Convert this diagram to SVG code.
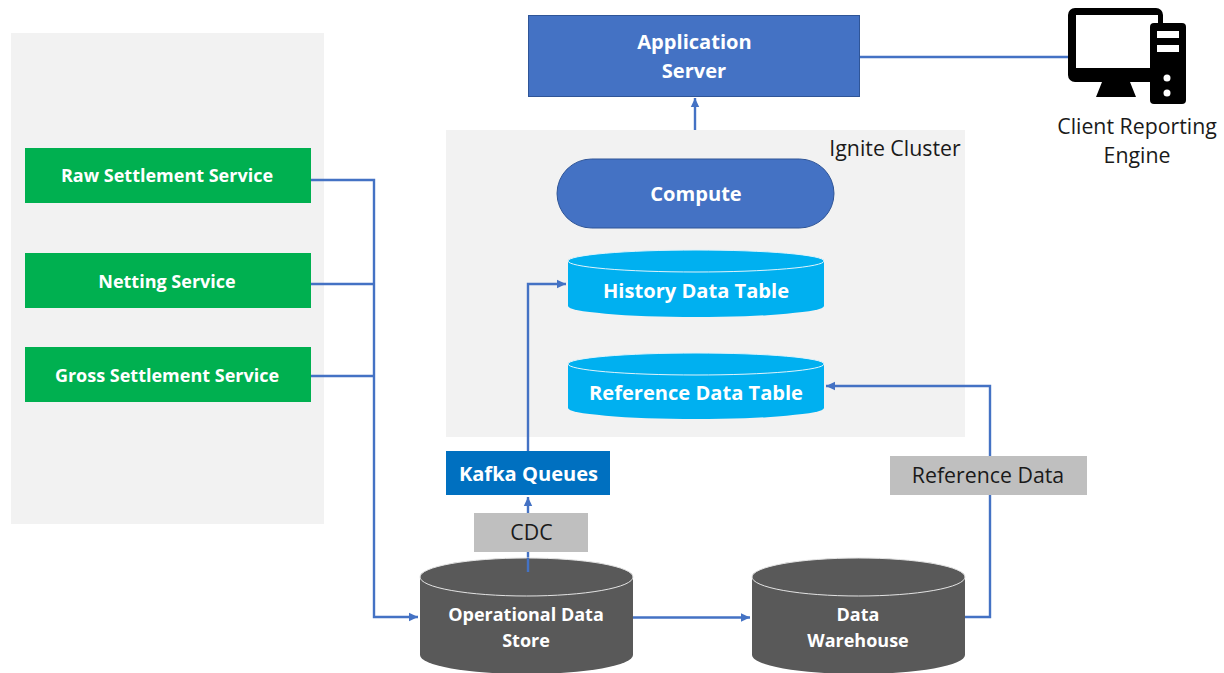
<svg xmlns="http://www.w3.org/2000/svg" width="1224" height="673" viewBox="0 0 1224 673">
<style>
text{font-family:"Open Sans","Noto Sans","Liberation Sans",sans-serif;text-anchor:middle}
.w{fill:#fff;font-weight:700}
.t{font-size:20.100px}
.s{font-size:18px}
.k{fill:#1a1a1a;font-size:21.300px}
.g{fill:#00b050}
.l{fill:#bfbfbf}
.c{fill:none;stroke:#4472c4;stroke-width:2.400}
</style>
<defs><marker id="ah" markerUnits="userSpaceOnUse" markerWidth="10" markerHeight="10" refX="9" refY="5" orient="auto"><path d="M0 0.8L9 5L0 9.2z" fill="#4472c4"/></marker></defs>
<rect id="left-panel" x="11" y="33" width="313" height="491" fill="#f2f2f2"/>
<rect id="ignite-panel" x="446" y="130" width="519" height="307" fill="#f2f2f2"/>
<g id="connectors">
<path class="c" d="M311 180H374V617H418" marker-end="url(#ah)"/>
<path class="c" d="M311 284H374"/>
<path class="c" d="M311 376H374"/>
<path class="c" d="M528 451V284H566" marker-end="url(#ah)"/>
<path class="c" d="M528 572V497" marker-end="url(#ah)"/>
<path class="c" d="M633 617.500H750" marker-end="url(#ah)"/>
<path class="c" d="M965 617H990V386H826" marker-end="url(#ah)"/>
<path class="c" d="M695 130V98" marker-end="url(#ah)"/>
<path class="c" d="M860 57H1068"/>
</g>
<g id="ignite-label"><text class="k" x="895" y="156">Ignite Cluster</text></g>
<g id="raw"><rect class="g" x="25" y="148" width="286" height="55"/><text class="w s" x="167" y="182">Raw Settlement Service</text></g>
<g id="netting"><rect class="g" x="25" y="253" width="286" height="55"/><text class="w s" x="167" y="288">Netting Service</text></g>
<g id="gross"><rect class="g" x="25" y="347" width="286" height="55"/><text class="w s" x="167" y="381.500">Gross Settlement Service</text></g>
<g id="app"><rect x="528.500" y="15.500" width="331" height="81" fill="#4472c4" stroke="#2f5597"/><text class="w t" x="694.500" y="49">Application</text><text class="w t" x="694" y="78">Server</text></g>
<g id="client"><path fill-rule="evenodd" d="M1075 8H1156a7 7 0 0 1 7 7V82H1130L1136 97H1096L1102 82H1075a7 7 0 0 1-7-7V15a7 7 0 0 1 7-7zM1076 15V68H1158V15z"/><rect x="1150" y="23" width="36" height="81" rx="4"/><rect x="1157" y="31" width="22" height="7" fill="#fff"/><rect x="1157" y="45" width="22" height="7" fill="#fff"/><circle cx="1167" cy="78" r="3.500" fill="#fff"/><circle cx="1167" cy="93" r="3.500" fill="#fff"/><text class="k" x="1137" y="134">Client Reporting</text><text class="k" x="1137" y="163">Engine</text></g>
<g id="compute"><rect x="557" y="159" width="277" height="69" rx="34.500" fill="#4472c4" stroke="#2f5597"/><text class="w t" x="696" y="201">Compute</text></g>
<g id="history"><path d="M568 261V306A128 11 0 0 0 824 306V261z" fill="#00b0f0"/><ellipse cx="696" cy="261" rx="128" ry="11" fill="#00b0f0" stroke="#dff3fb"/><text class="w t" x="696" y="297.500">History Data Table</text></g>
<g id="reference"><path d="M568 364V408A128 11 0 0 0 824 408V364z" fill="#00b0f0"/><ellipse cx="696" cy="364" rx="128" ry="11" fill="#00b0f0" stroke="#dff3fb"/><text class="w t" x="696" y="400">Reference Data Table</text></g>
<g id="kafka"><rect x="446" y="451" width="164" height="44" fill="#0070c0"/><text class="w t" x="528.500" y="481">Kafka Queues</text></g>
<g id="cdc"><rect class="l" x="474" y="513" width="114" height="39"/><text class="k" x="531.500" y="540">CDC</text></g>
<g id="refdata"><rect class="l" x="890" y="456" width="197" height="39"/><text class="k" x="988" y="483">Reference Data</text></g>
<g id="ods"><path d="M420 577V655A106.500 19 0 0 0 633 655V577z" fill="#595959"/><ellipse cx="526.500" cy="577" rx="106.500" ry="19" fill="#595959" stroke="#e4e4e4"/><path d="M528 558V572" class="c"/><text class="w s" x="526" y="621">Operational Data</text><text class="w s" x="526" y="647">Store</text></g>
<g id="dw"><path d="M752 577V655A106.500 19 0 0 0 965 655V577z" fill="#595959"/><ellipse cx="858.500" cy="577" rx="106.500" ry="19" fill="#595959" stroke="#e4e4e4"/><text class="w s" x="858" y="621">Data</text><text class="w s" x="858" y="647">Warehouse</text></g>
</svg>
